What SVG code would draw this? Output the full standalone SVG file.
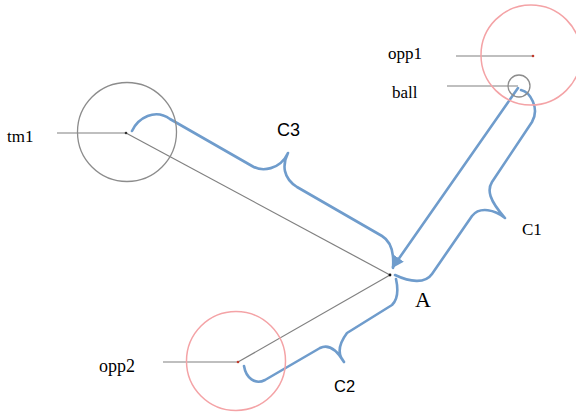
<svg xmlns="http://www.w3.org/2000/svg" width="576" height="415" viewBox="0 0 576 415">
<style>
.serif{font-family:"Liberation Serif","DejaVu Serif",serif;font-size:17px;fill:#000}
.sans{font-family:"Liberation Sans","DejaVu Sans",sans-serif;fill:#000}
.gl{stroke:#808080;stroke-width:1.2;fill:none}
.br{stroke:#6f9ccc;stroke-width:2.6;fill:none;stroke-linecap:round;stroke-linejoin:round}
.team{stroke:#8c8c8c;stroke-width:1.3;fill:none}
.opp{stroke:#f4a3a6;stroke-width:1.5;fill:none}
</style>
<defs>
<marker id="ah" viewBox="0 0 10 10" refX="9" refY="5" markerWidth="4.5" markerHeight="4.5" orient="auto" markerUnits="strokeWidth">
<path d="M0,0 L10,5 L0,10 Z" fill="#6f9ccc"/>
</marker>
</defs>
<rect width="576" height="415" fill="#fff"/>
<g id="connectors">
<line class="gl" x1="126" y1="133" x2="390" y2="275"/>
<line class="gl" x1="238" y1="362" x2="390" y2="275"/>
<line class="gl" x1="57" y1="133" x2="126" y2="133"/>
<line class="gl" x1="163" y1="362" x2="238" y2="362"/>
<line class="gl" x1="456" y1="56" x2="533" y2="56"/>
<line class="gl" x1="447" y1="86" x2="518" y2="86"/>
<line class="br" x1="518" y1="88" x2="393" y2="267" marker-end="url(#ah)"/>
<path id="brace-c1" class="br" d="M521 90 C530 92 540 108 532 122 L492 182 C487 190 489 200 505 218 C495 210 480 206 472 216 L432 274 C425 284 410 282 395 275"/>
<path id="brace-c3" class="br" d="M132 131 C138 118 155 108 170 119 L252 166 C262 172 280 170 288 153 C282 165 283 178 297 187 L382 236 C392 242 394 255 393 268"/>
<path id="brace-c2" class="br" d="M396 279 C398 288 399 298 392 305 L347 333 C338 345 338 355 344 362 C338 352 330 343 320 348 L265 380 C255 385 246 378 244 366"/>
</g>
<g id="tm1">
<circle class="team" cx="127" cy="132" r="49.5"/>
<circle cx="126" cy="133" r="1.3" fill="#333"/>
<text class="serif" x="7" y="142">tm1</text>
</g>
<g id="opp1">
<circle class="opp" cx="531" cy="55" r="50"/>
<circle cx="533" cy="56" r="1.3" fill="#c0392b"/>
<text class="serif" x="388" y="59">opp1</text>
</g>
<g id="ball">
<circle class="team" cx="519" cy="86" r="11"/>
<text class="serif" x="392" y="98">ball</text>
</g>
<g id="opp2">
<circle class="opp" cx="236" cy="361" r="49.5"/>
<circle cx="238" cy="362" r="1.3" fill="#c0392b"/>
<text class="serif" x="99" y="372" style="font-size:18px">opp2</text>
</g>
<g id="A">
<circle cx="390" cy="275" r="1.4" fill="#111"/>
<text class="serif" x="415" y="307" style="font-size:22px">A</text>
</g>
<g id="labels">
<text class="sans" x="277" y="136" style="font-size:18px">C3</text>
<text class="serif" x="522" y="235">C1</text>
<text class="sans" x="334" y="392" style="font-size:16.5px">C2</text>
</g>
</svg>
